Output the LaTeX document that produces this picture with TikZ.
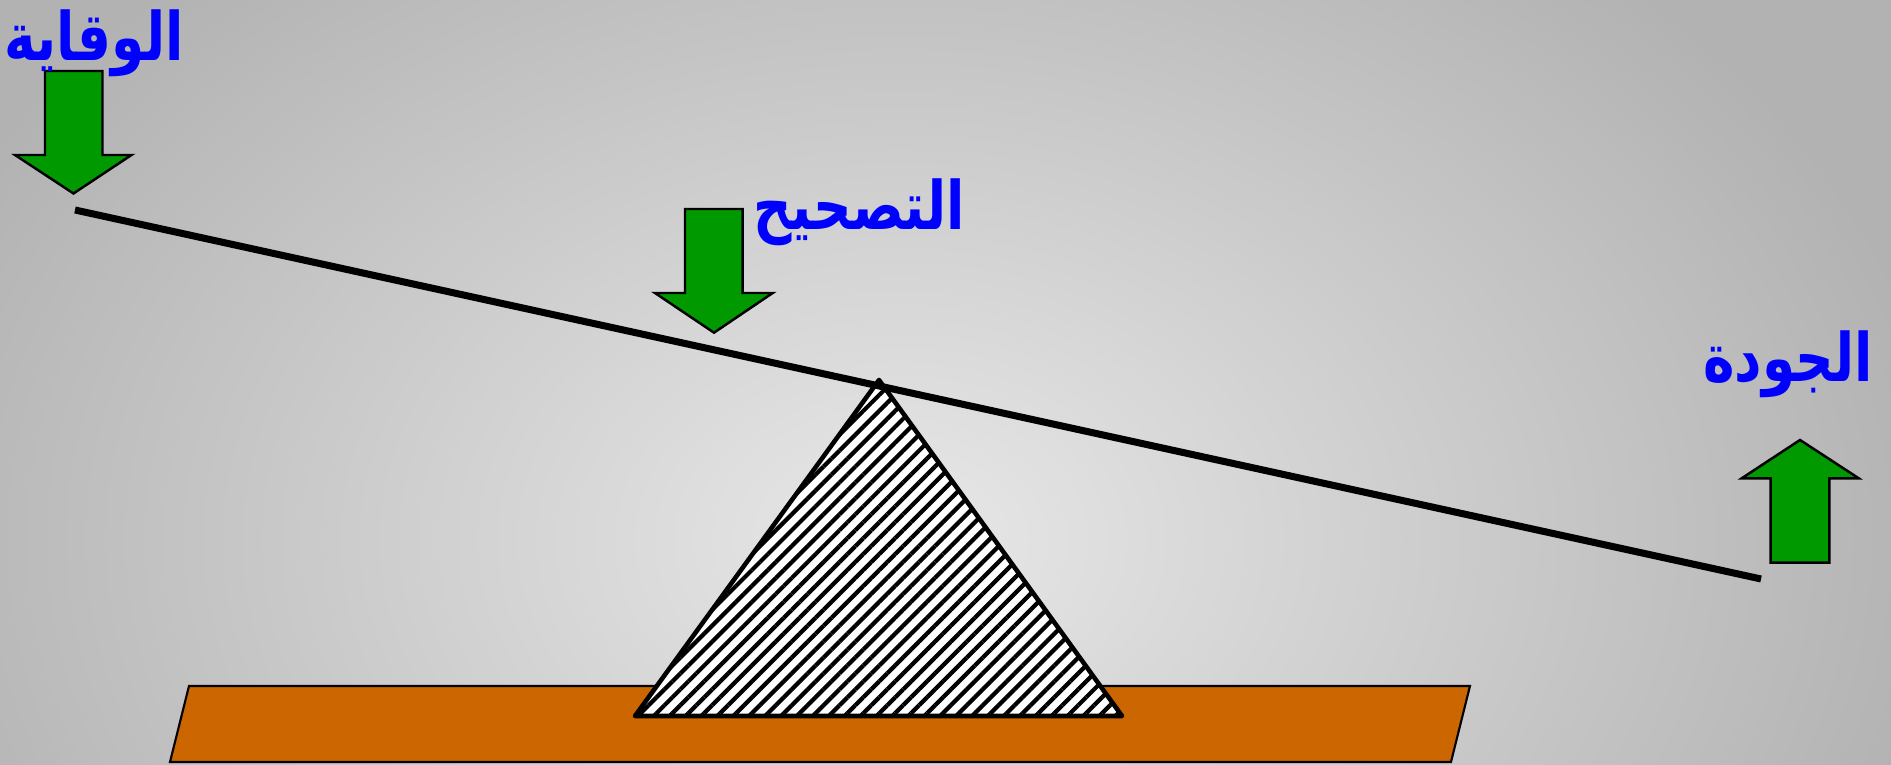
\documentclass[tikz,border=0pt]{standalone}
\usepackage{fontspec}
\usepackage{graphicx}
\usepackage{tikz}
\usetikzlibrary{
  calc,%
  % hatched pivot
  patterns.meta,
  positioning
}
\TeXXeTstate=1
\newfontfamily\arabicfont[Script=Arabic]{DejaVu Sans}
\newcommand{\arword}[1]{\scalebox{0.8}[1]{\beginR #1\endR}}
\definecolor{weightgreen}{HTML}{009900}
\definecolor{plankbrown}{HTML}{CC6600}
\tikzset{
  word/.style={text=blue, inner sep=0pt,
    font=\arabicfont\bfseries\fontsize{19}{22}\selectfont},
  weight/.style={draw=black, fill=weightgreen, line width=0.7pt, line join=miter},
  beam/.style={line width=2pt}
}

\begin{document}
\begin{tikzpicture}[x=0.01cm, y=-0.01cm]
          % background
          \fill[black!30] (0,0) rectangle (1891,765);
          \begin{scope}
            \clip (0,0) rectangle (1891,765);
            \shade[inner color=black!9, outer color=black!30] (900,540) ellipse (1050 and 760);
          \end{scope}
          \useasboundingbox (0,0) rectangle (1891,765);
          % plank
          \draw[fill=plankbrown, line width=0.6pt] (189,686) -- (1470,686) -- (1451,762) -- (170,762) -- cycle;
          % pivot
          \fill[white] (879,380) -- (635,716) -- (1122,716) -- cycle;
          \draw[pattern={Lines[angle=45, distance=3.2pt, line width=1.2pt]},
            line width=1.3pt, line join=round]
            (879,380) coordinate (top) -- (635,716) coordinate (bl) -- (1122,716) coordinate (br) -- cycle;
          % beam
          \draw[beam] (75,210) coordinate (a) -- (1761,579) coordinate (b);
          % weights
          \draw[weight] (45,71) -- (102.5,71) -- (102.5,155) -- (131.5,155) -- (73.5,193.5) -- (15,155) -- (45,155) -- cycle;
          \draw[weight] (685,209) -- (742.7,209) -- (742.7,293) -- (772.7,293) -- (714,332.7) -- (655,293) -- (685,293) -- cycle;
          \draw[weight] (1770.7,562.7) -- (1829.3,562.7) -- (1829.3,478.3) -- (1858.7,478.3) -- (1800,440) -- (1741.7,478.3) -- (1770.7,478.3) -- cycle;
          % labels
          \node[word, anchor=base] (prevention) at (94,61) {\arword{الوقاية}};
          \node[word, anchor=base] (correction) at (859,230) {\arword{التصحيح}};
          \node[word, anchor=base] (quality) at (1788,382) {\arword{الجودة}};
        \end{tikzpicture}
\end{document}
